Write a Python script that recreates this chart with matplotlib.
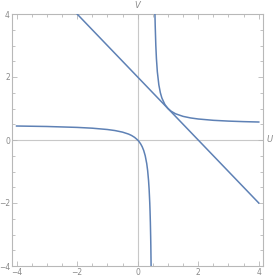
#!/usr/bin/env python3

import matplotlib
matplotlib.use('Agg')
import matplotlib.pyplot as plt
from matplotlib.ticker import MultipleLocator

# Straight line, endpoints
line_u = [-2, 4]
line_v = [4, -2]

# Left/lower branch of the curve
left_u = [-4, -3, -2, -1.5, -1, -0.75, -0.5, -0.3, -0.2, -0.1, 0, 0.05, 0.1, 0.15,
          0.2, 0.25, 0.3, 0.33, 0.36, 0.38, 0.4, 0.41, 0.42, 0.43, 0.435, 0.444]
left_v = [0.444, 0.429, 0.4, 0.375, 0.333, 0.3, 0.25, 0.188, 0.143, 0.083, 0, -0.056,
          -0.125, -0.214, -0.333, -0.5, -0.75, -0.97, -1.286, -1.583, -2.0, -2.278,
          -2.625, -3.071, -3.346, -4.0]

# Right/upper branch of the curve
right_u = [0.571, 0.58, 0.6, 0.62, 0.65, 0.7, 0.75, 0.8, 0.9, 1.0, 1.1, 1.25, 1.5,
           1.75, 2, 2.5, 3, 3.5, 4]
right_v = [4.0, 3.625, 3.0, 2.583, 2.167, 1.75, 1.5, 1.333, 1.125, 1.0, 0.917, 0.833,
           0.75, 0.7, 0.667, 0.625, 0.6, 0.583, 0.571]

ticks = [-4, -2, 0, 2, 4]
tick_labels = ['\u22124', '\u22122', '0', '2', '4']

blue = '#5e81b5'
frame_gray = '#b8b8b8'
text_gray = '#8a8a8a'

fig = plt.figure(figsize=(2.75, 2.79), dpi=100)
ax = fig.add_axes([12 / 275, 13 / 279, 251 / 275, 252 / 279])

# axes through the origin
ax.axhline(0, color='#c8c8c8', lw=0.8, zorder=1)
ax.axvline(0, color='#c8c8c8', lw=0.8, zorder=1)

ax.plot(line_u, line_v, color=blue, lw=1.1, zorder=3)
ax.plot(left_u, left_v, color=blue, lw=1.1, zorder=3)
ax.plot(right_u, right_v, color=blue, lw=1.1, zorder=3)

ax.set_xlim(-4.15, 4.14)
ax.set_ylim(-4, 4)

for s in ax.spines.values():
    s.set_color(frame_gray)
    s.set_linewidth(0.8)

ax.set_xticks(ticks)
ax.set_xticklabels(tick_labels)
ax.set_yticks(ticks)
ax.set_yticklabels(tick_labels)
ax.xaxis.set_minor_locator(MultipleLocator(0.5))
ax.yaxis.set_minor_locator(MultipleLocator(0.5))
ax.tick_params(which='both', direction='in', top=True, right=True,
               color=frame_gray, width=0.6, labelsize=5.5, labelcolor=text_gray, pad=1.5)
ax.tick_params(which='major', length=3.5)
ax.tick_params(which='minor', length=2)

fig.text(137 / 275, 1 - 5 / 279, 'V', color=text_gray, fontsize=6, style='italic',
         ha='center', va='center')
fig.text(270 / 275, 1 - 140 / 279, 'U', color=text_gray, fontsize=6, style='italic',
         ha='center', va='center')

plt.savefig('out.png', dpi=100)
plt.close()
